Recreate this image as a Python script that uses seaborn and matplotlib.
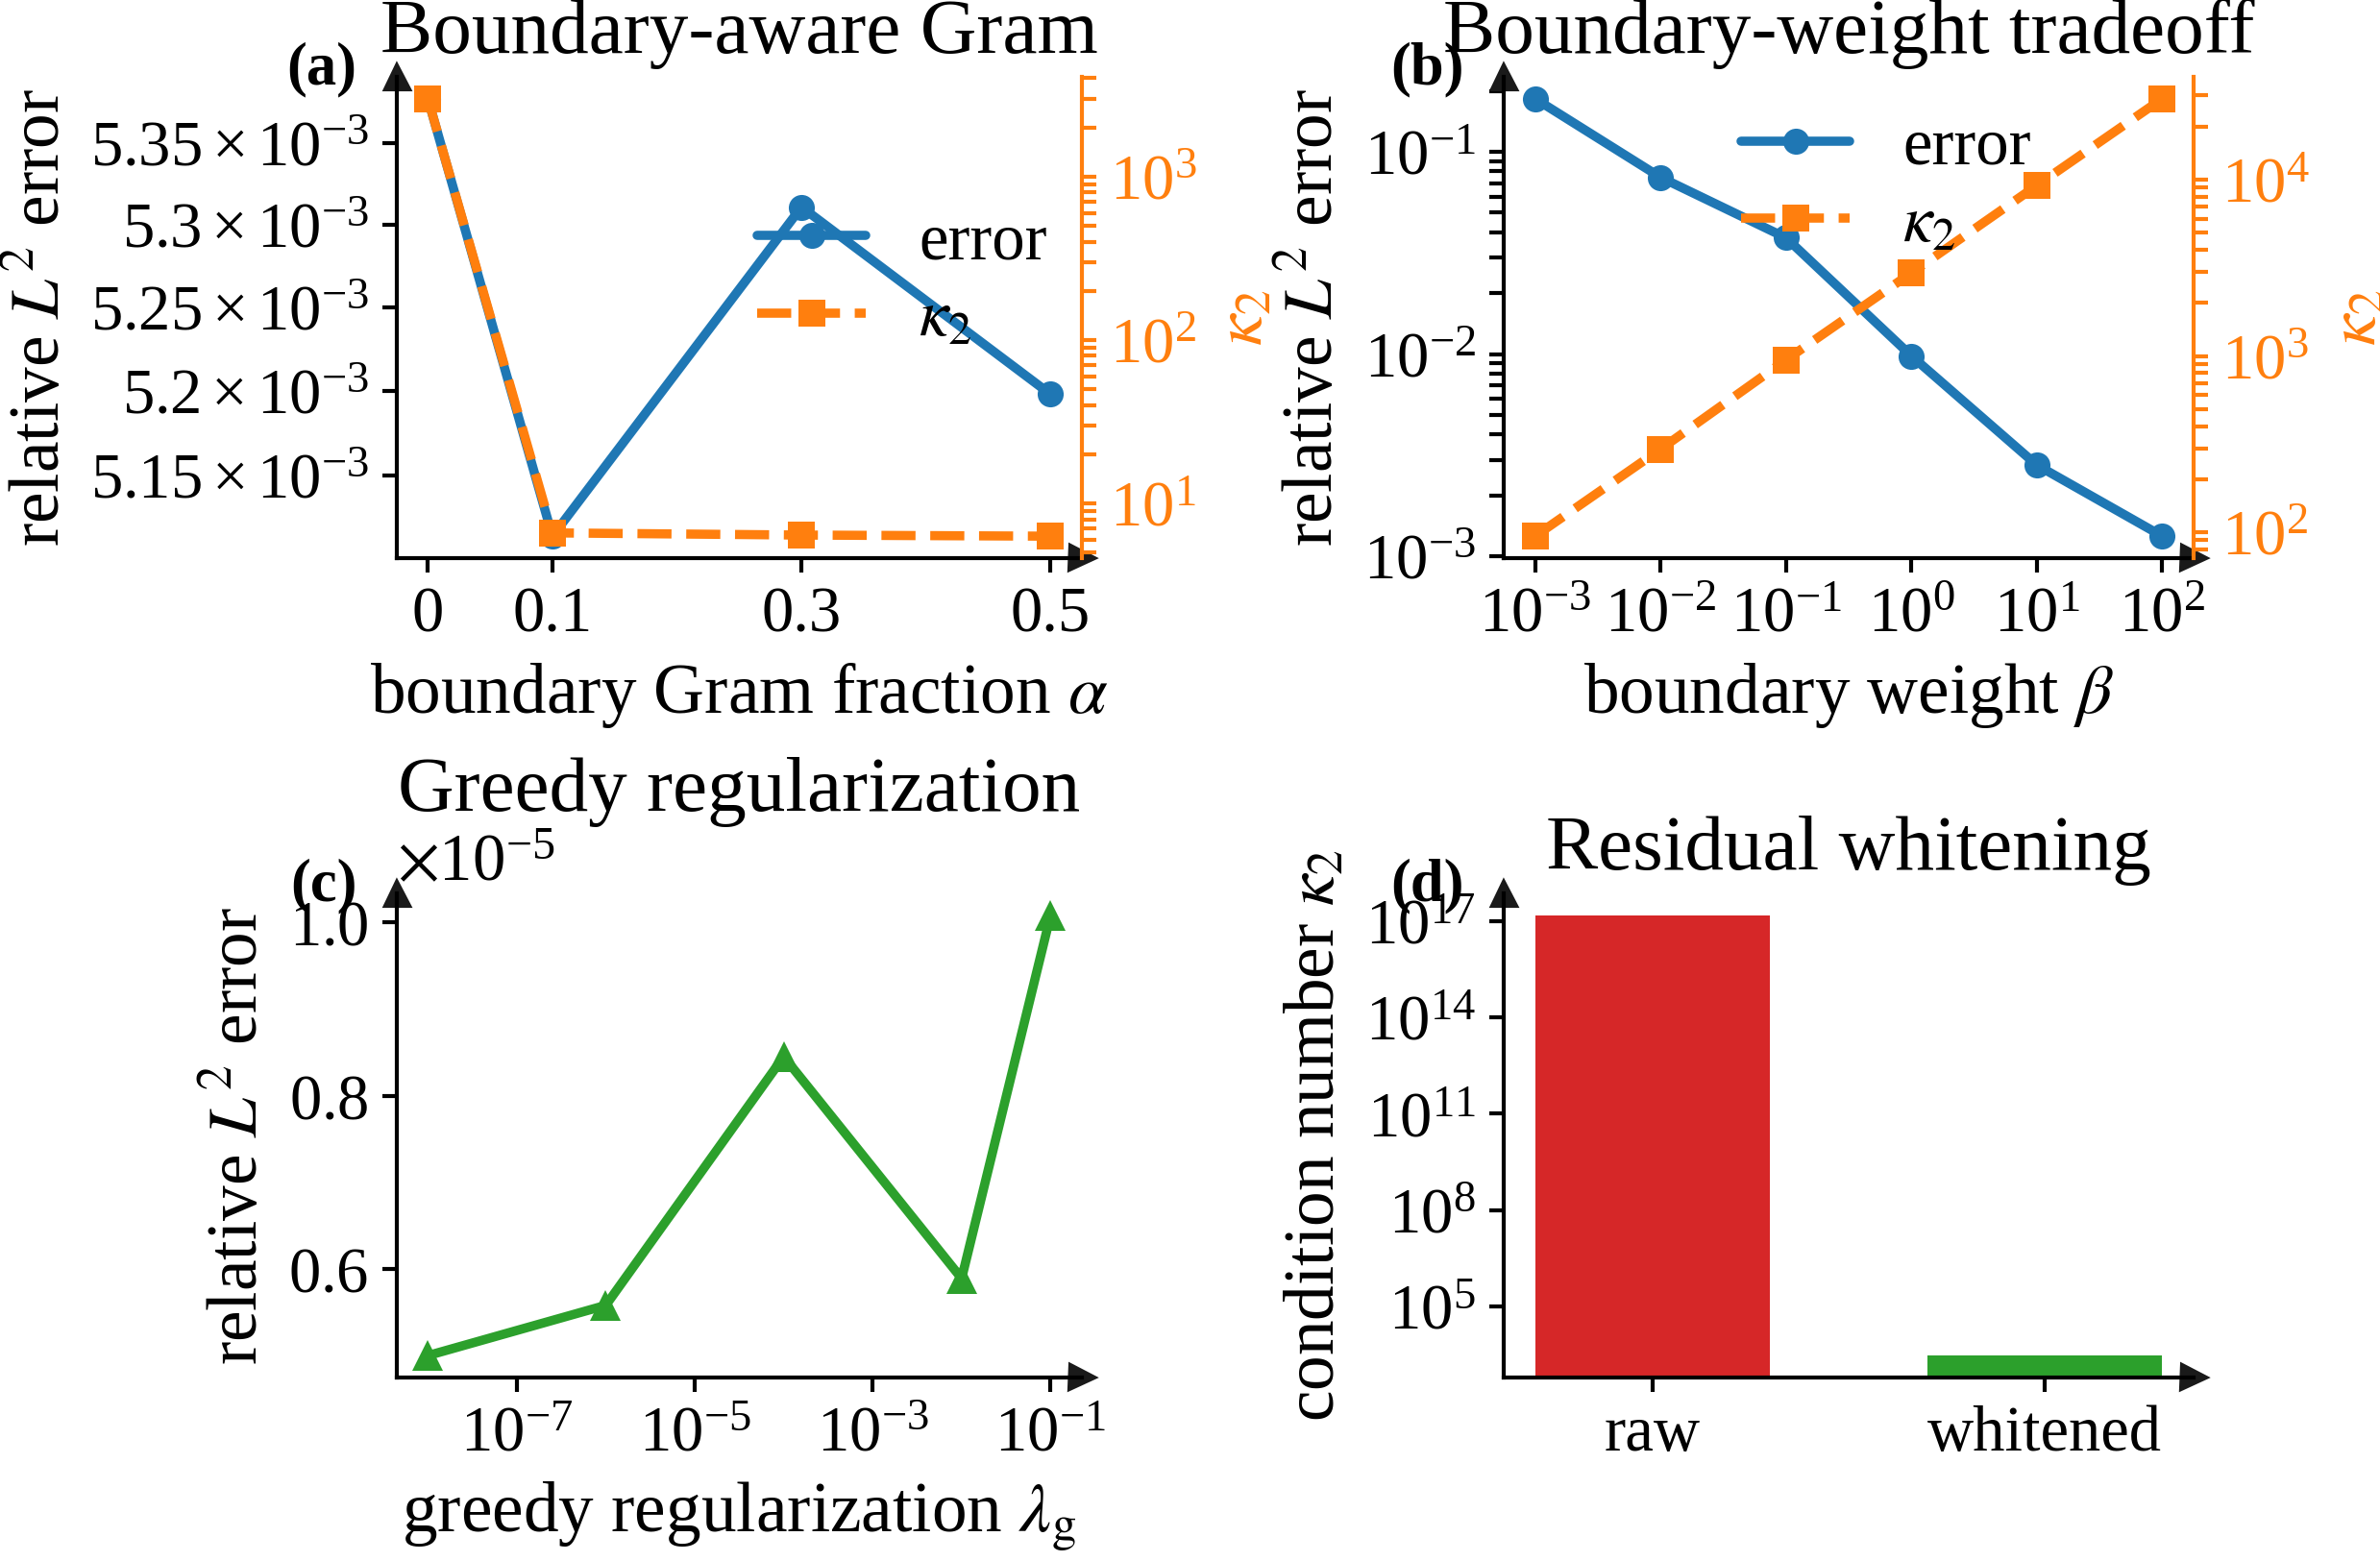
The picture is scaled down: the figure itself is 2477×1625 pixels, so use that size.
"""Four-panel summary: boundary Gram, boundary weight, greedy reg., whitening."""
import matplotlib
matplotlib.use("Agg")
import matplotlib.pyplot as plt
import matplotlib.ticker as mticker
import seaborn as sns

# (a) boundary-aware Gram
alpha = [0.0, 0.1, 0.3, 0.5]
err_a = [5.3775e-3, 5.114e-3, 5.311e-3, 5.198e-3]
kappa_a = [3000, 6.6, 6.4, 6.3]

# (b) boundary-weight tradeoff
beta = [1e-3, 1e-2, 1e-1, 1e0, 1e1, 1e2]
err_b = [0.183, 0.0748, 0.0376, 0.0098, 0.00283, 0.00126]
kappa_b = [95, 296, 950, 2960, 9270, 28800]

# (c) greedy regularization
lam_g = [1e-8, 1e-6, 1e-4, 1e-2, 1e-1]
err_c = [5.00e-6, 5.58e-6, 8.45e-6, 5.89e-6, 1.008e-5]

# (d) residual whitening
variants = ["raw", "whitened"]
kappa_d = [1.5e17, 3.0e3]

BLUE, ORANGE, GREEN, RED = "#1f77b4", "#ff7f0e", "#2ca02c", "#d62728"
LW, MS = 2.3, 6.5

sns.set_theme(style="ticks")
plt.rcParams.update({
    "font.family": ["Liberation Serif", "DejaVu Serif"],
    "mathtext.fontset": "stix",
    "axes.formatter.use_mathtext": True,
    "text.color": "black", "axes.labelcolor": "black", "axes.edgecolor": "black",
    "xtick.color": "black", "ytick.color": "black",
    "xtick.labelsize": 16, "ytick.labelsize": 16,
    "axes.labelsize": 17.6, "axes.titlesize": 19.5,
    "axes.linewidth": 1.0,
    "xtick.major.size": 3.5, "ytick.major.size": 3.5,
    "xtick.minor.size": 3.5, "ytick.minor.size": 3.5,
    "xtick.major.width": 1.0, "ytick.major.width": 1.0,
    "xtick.minor.width": 1.0, "ytick.minor.width": 1.0,
})

fig = plt.figure(figsize=(2477 / 300, 1625 / 300), dpi=300)
ax_a = fig.add_axes([0.1667, 0.6425, 0.2878, 0.3083])
ax_b = fig.add_axes([0.6318, 0.6425, 0.2899, 0.3083])
ax_c = fig.add_axes([0.1667, 0.1175, 0.2878, 0.3102])
ax_d = fig.add_axes([0.6318, 0.1175, 0.2899, 0.3102])


def arrow_spines(ax):
    for side in ("top", "right"):
        ax.spines[side].set_visible(False)
    ax.plot(1, 0, ">k", ms=6, transform=ax.transAxes, clip_on=False)
    ax.plot(0, 1, "^k", ms=6, transform=ax.transAxes, clip_on=False)


def panel_tag(ax, tag):
    ax.text(-0.058, 1.014, tag, transform=ax.transAxes, ha="right", va="center",
            fontsize=15, fontweight="bold")


def style_twin(ax2):
    for side in ("left", "top", "bottom"):
        ax2.spines[side].set_visible(False)
    ax2.spines["right"].set_color(ORANGE)
    ax2.tick_params(axis="y", which="both", colors=ORANGE)
    ax2.set_ylabel(r"$\kappa_2$", color=ORANGE)


def err_kappa(ax, x, err, kap, legend_at):
    sns.lineplot(x=x, y=err, ax=ax, color=BLUE, lw=LW, marker="o", ms=MS,
                 mec=BLUE, mew=0, errorbar=None, label="error", legend=False)
    ax2 = ax.twinx()
    sns.lineplot(x=x, y=kap, ax=ax2, color=ORANGE, lw=LW, ls="--", marker="s",
                 ms=MS, mec=ORANGE, mew=0, errorbar=None, label=r"$\kappa_2$",
                 legend=False)
    ax.set_yscale("log")
    ax2.set_yscale("log")
    style_twin(ax2)
    for a in (ax, ax2):
        if a.get_legend() is not None:
            a.get_legend().remove()
    h1, l1 = ax.get_legend_handles_labels()
    h2, l2 = ax2.get_legend_handles_labels()
    ax2.legend(h1 + h2, l1 + l2, loc="center left", bbox_to_anchor=legend_at,
               frameon=False, fontsize=16.5, handlelength=1.65,
               labelspacing=0.25, borderpad=0, borderaxespad=0)
    ax.set_ylabel(r"relative $L^2$ error")
    return ax2


# (a)
err_kappa(ax_a, alpha, err_a, kappa_a, (0.526, 0.575))
ax_a.set_xticks(alpha, [f"{a:g}" for a in alpha])
ax_a.set_xlabel(r"boundary Gram fraction $\alpha$")
ax_a.set_title("Boundary-aware Gram")
arrow_spines(ax_a)
panel_tag(ax_a, "(a)")

# (b)
err_kappa(ax_b, beta, err_b, kappa_b, (0.344, 0.772))
ax_b.set_xscale("log")
ax_b.xaxis.set_major_locator(mticker.LogLocator(numticks=7))
ax_b.xaxis.set_minor_locator(mticker.NullLocator())
ax_b.set_xlabel(r"boundary weight $\beta$")
ax_b.set_title("Boundary-weight tradeoff")
arrow_spines(ax_b)
panel_tag(ax_b, "(b)")

# (c)
sns.lineplot(x=lam_g, y=err_c, ax=ax_c, color=GREEN, lw=LW, marker="^", ms=7.5,
             mec=GREEN, mew=0, errorbar=None)
ax_c.set_xscale("log")
ax_c.xaxis.set_major_locator(mticker.LogLocator(numticks=7))
ax_c.xaxis.set_minor_locator(mticker.NullLocator())
ax_c.yaxis.get_offset_text().set_fontsize(16.5)
ax_c.set_xlabel(r"greedy regularization $\lambda_{\rm g}$")
ax_c.set_ylabel(r"relative $L^2$ error")
ax_c.set_title("Greedy regularization")
arrow_spines(ax_c)
panel_tag(ax_c, "(c)")

# (d)
sns.barplot(x=variants, y=kappa_d, hue=variants, palette=[RED, GREEN],
            width=0.6, saturation=1, linewidth=0, legend=False, ax=ax_d)
ax_d.set_yscale("log")
ax_d.yaxis.set_major_locator(mticker.LogLocator(numticks=6))
ax_d.yaxis.set_minor_locator(mticker.NullLocator())
ax_d.set_xlim(-0.38, 1.38)
ax_d.set_ylabel(r"condition number $\kappa_2$")
ax_d.set_title("Residual whitening")
arrow_spines(ax_d)
panel_tag(ax_d, "(d)")

fig.savefig("out.png", dpi=300)
